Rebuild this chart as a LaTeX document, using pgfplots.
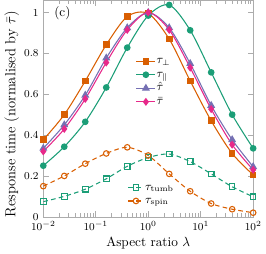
\documentclass[border=0pt]{standalone}
\usepackage{pgfplots}
\pgfplotsset{compat=1.18}
\definecolor{cor}{HTML}{D95F02}
\definecolor{cgr}{HTML}{1B9E77}
\definecolor{cpu}{HTML}{7570B3}
\definecolor{cpi}{HTML}{E7298A}
\begin{document}
\begin{tikzpicture}
\begin{axis}[
  xmode=log, scale only axis, width=158pt, height=163pt,
  xmin=0.01, xmax=100, ymin=0, ymax=1.06,
  legend cell align=left,
  legend style={draw=none, fill=none, row sep=1pt, inner sep=0pt, font=\small,
     nodes={inner sep=0.6pt, text height=6pt, text depth=2pt},
     at={(0.44,0.748)}, anchor=north west},
  legend image code/.code={\draw[mark repeat=2,mark phase=2] plot coordinates {(0cm,0cm)(0.25cm,0cm)(0.5cm,0cm)};},
  axis line style={gray!65},
  every tick/.style={gray!65},
  tick label style={font=\footnotesize},
  ytick={0,0.2,0.4,0.6,0.8,1},
  yticklabels={0,0.2,0.4,0.6,0.8,1},
  xtick={0.01,0.1,1,10,100},
  xlabel={Aspect ratio $\lambda$},
  ylabel={Response time (normalised by $\bar\tau$)},
  xlabel style={yshift=2pt},
  ylabel style={at={(ticklabel cs:0.474)}, font=\fontsize{11}{13}\selectfont},
  ylabel shift=-3pt,
  every axis plot/.append style={line width=0.8pt, mark size=2.1pt},
]
\addplot[cor, smooth, mark=square*] coordinates {
(0.01,0.377)(0.0251189,0.50)(0.0630957,0.665)(0.158489,0.842)(0.398107,0.98)(1,0.995)(2.51189,0.87)(6.30957,0.665)(15.8489,0.47)(39.8107,0.31)(100,0.205)};
\addlegendentry{$\tau_\perp$}
\addplot[cgr, smooth, mark=*] coordinates {
(0.01,0.25)(0.0251189,0.343)(0.0630957,0.465)(0.158489,0.633)(0.398107,0.828)(1,0.985)(2.51189,1.037)(6.30957,0.913)(15.8489,0.707)(39.8107,0.50)(100,0.335)};
\addlegendentry{$\tau_\parallel$}
\addplot[cpu, smooth, mark=triangle*, mark size=2.7pt] coordinates {
(0.01,0.335)(0.0251189,0.45)(0.0630957,0.595)(0.158489,0.777)(0.398107,0.925)(1,1.0)(2.51189,0.925)(6.30957,0.75)(15.8489,0.545)(39.8107,0.377)(100,0.245)};
\addlegendentry{$\hat\tau$}
\addplot[cpi, smooth, mark=diamond*, mark size=2.4pt] coordinates {
(0.01,0.32)(0.0251189,0.43)(0.0630957,0.577)(0.158489,0.755)(0.398107,0.915)(1,1.0)(2.51189,0.915)(6.30957,0.73)(15.8489,0.527)(39.8107,0.353)(100,0.23)};
\addlegendentry{$\bar\tau$}
\node[anchor=west] at (rel axis cs:0.03,0.94) {(c)};
\end{axis}
\begin{axis}[
  xmode=log, scale only axis, width=158pt, height=163pt,
  xmin=0.01, xmax=100, ymin=0, ymax=1.06,
  hide axis,
  legend cell align=left,
  legend style={draw=none, fill=none, row sep=1pt, inner sep=0pt, font=\small,
     nodes={inner sep=0.6pt, text height=6pt, text depth=2pt},
     at={(0.40,0.165)}, anchor=north west},
  legend image code/.code={\draw[mark repeat=2,mark phase=2] plot coordinates {(0cm,0cm)(0.21cm,0cm)(0.42cm,0cm)};},
  every axis plot/.append style={line width=0.8pt, mark size=2.1pt,
     dash pattern=on 3.5pt off 2.5pt, mark options={solid}},
]
\addplot[cgr, smooth, mark=square] coordinates {
(0.01,0.074)(0.0251189,0.10)(0.0630957,0.135)(0.158489,0.186)(0.398107,0.247)(1,0.29)(2.51189,0.307)(6.30957,0.27)(15.8489,0.21)(39.8107,0.147)(100,0.098)};
\addlegendentry{$\tau_{\rm tumb}$}
\addplot[cor, smooth, mark=o] coordinates {
(0.01,0.15)(0.0251189,0.20)(0.0630957,0.26)(0.158489,0.31)(0.398107,0.34)(1,0.30)(2.51189,0.21)(6.30957,0.125)(15.8489,0.065)(39.8107,0.037)(100,0.02)};
\addlegendentry{$\tau_{\rm spin}$}
\end{axis}
\end{tikzpicture}
\end{document}
